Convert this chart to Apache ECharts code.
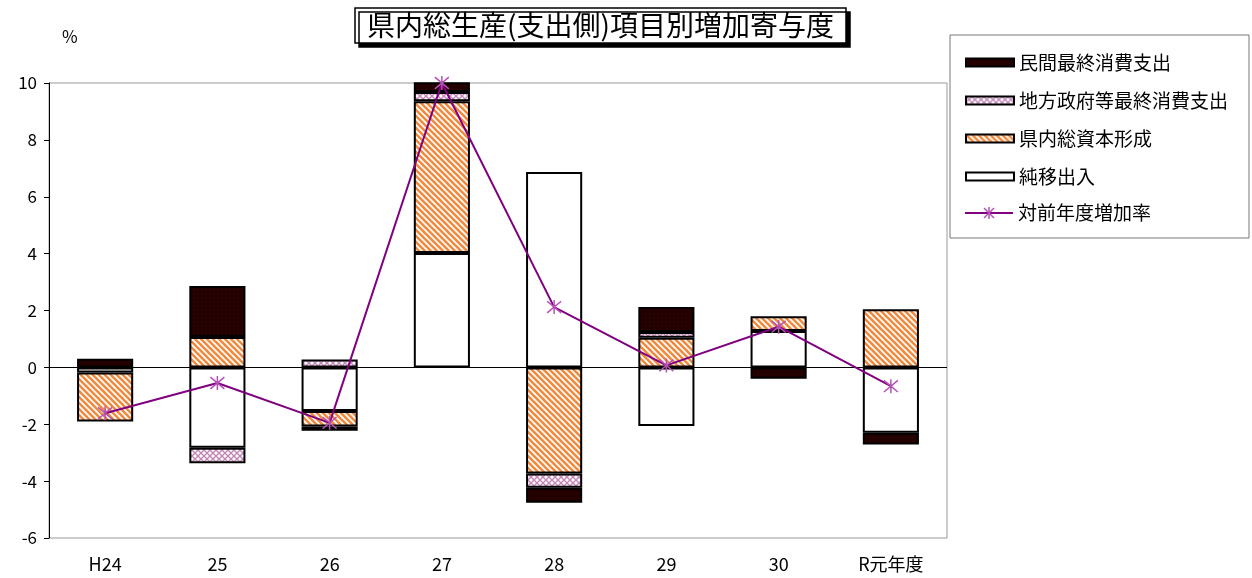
<!DOCTYPE html>
<html>
<head>
<meta charset="utf-8">
<script src="https://cdn.jsdelivr.net/npm/echarts@6/dist/echarts.min.js"></script>
<style>
  html, body { margin: 0; padding: 0; background: #fff; }
  #chart { width: 1252px; height: 578px; }
</style>
</head>
<body>
<div id="chart"></div>
<script>
// 年度
const categories = ['H24', '25', '26', '27', '28', '29', '30', 'R元年度'];
// 寄与度 (%)
const netExports = [-0.18, -2.83, -1.53, 4.02, 6.87, -2.06, 1.28, -2.30];   // 純移出入
const capital = [-1.72, 1.07, -0.55, 5.34, -3.73, 1.04, 0.52, 2.04];        // 県内総資本形成
const government = [null, -0.54, 0.28, 0.32, -0.50, 0.20, null, null];      // 地方政府等最終消費支出
const privateCons = [0.30, 1.79, -0.15, 0.35, -0.53, 0.88, -0.40, -0.41];   // 民間最終消費支出
const growth = [-1.61, -0.55, -1.95, 10.0, 2.12, 0.07, 1.43, -0.66];        // 対前年度増加率

const FONT = '"Noto Sans CJK JP", "DejaVu Sans", sans-serif';
const STAR = 'path://M0,0L10,10M10,0L0,10M5,-1L5,11';
const LINE_NAME = '対前年度増加率';

function makePattern(size, draw) {
  const c = document.createElement('canvas');
  c.width = size; c.height = size;
  draw(c.getContext('2d'), size);
  return { image: c, repeat: 'repeat' };
}

const stripe = makePattern(6, (ctx, s) => {
  ctx.fillStyle = '#ffffff';
  ctx.fillRect(0, 0, s, s);
  ctx.strokeStyle = '#f08a3e';
  ctx.lineWidth = 2.6;
  for (let x = -s; x <= s; x += s) {
    ctx.beginPath();
    ctx.moveTo(x - 1, -1);
    ctx.lineTo(x + s + 1, s + 1);
    ctx.stroke();
  }
});

const hatch = makePattern(6, (ctx, s) => {
  ctx.fillStyle = '#ffffff';
  ctx.fillRect(0, 0, s, s);
  ctx.strokeStyle = '#c486b8';
  ctx.lineWidth = 1.4;
  ctx.beginPath();
  ctx.moveTo(0, 0); ctx.lineTo(s, s);
  ctx.moveTo(s, 0); ctx.lineTo(0, s);
  ctx.stroke();
});

const dots = makePattern(4, (ctx, s) => {
  ctx.fillStyle = '#220000';
  ctx.fillRect(0, 0, s, s);
  ctx.fillStyle = '#400404';
  ctx.fillRect(1, 1, 1, 1);
});

function barSeries(name, data, color) {
  return {
    name: name,
    type: 'bar',
    stack: 'total',
    barWidth: '50%',
    data: data,
    itemStyle: { color: color, borderColor: '#000', borderWidth: 2 }
  };
}

// legend frame + the line entry (drawn by hand so it keeps line and star)
const lx = 965, ly = 213;
const legendGraphics = [
  { type: 'rect', shape: { x: 950, y: 35, width: 299, height: 203 },
    style: { fill: 'none', stroke: '#777', lineWidth: 1 }, z: 1 },
  { type: 'line', shape: { x1: lx, y1: ly, x2: lx + 48, y2: ly },
    style: { stroke: '#800080', lineWidth: 2 }, z: 5 },
  { type: 'line', shape: { x1: lx + 19, y1: ly - 5, x2: lx + 29, y2: ly + 5 },
    style: { stroke: '#b552b5', lineWidth: 1.5 }, z: 6 },
  { type: 'line', shape: { x1: lx + 29, y1: ly - 5, x2: lx + 19, y2: ly + 5 },
    style: { stroke: '#b552b5', lineWidth: 1.5 }, z: 6 },
  { type: 'line', shape: { x1: lx + 24, y1: ly - 6, x2: lx + 24, y2: ly + 6 },
    style: { stroke: '#b552b5', lineWidth: 1.5 }, z: 6 },
  { type: 'text', x: lx + 53, y: ly, z: 6,
    style: { text: LINE_NAME, fontFamily: FONT, fontSize: 19, fill: '#000', verticalAlign: 'middle' } }
];

const chart = echarts.init(document.getElementById('chart'));
chart.setOption({
  animation: false,
  backgroundColor: '#fff',
  textStyle: { fontFamily: FONT, color: '#000' },
  title: {
    text: '県内総生産(支出側)項目別増加寄与度',
    left: 355,
    top: 8,
    padding: [3, 12, 4, 12],
    backgroundColor: '#fff',
    borderColor: '#000',
    borderWidth: 1.5,
    shadowColor: '#000',
    shadowOffsetX: 4,
    shadowOffsetY: 4,
    shadowBlur: 0,
    textStyle: { fontFamily: FONT, fontSize: 28, fontWeight: 'normal', color: '#000' }
  },
  graphic: [{
    type: 'text',
    left: 62,
    top: 28,
    style: { text: '%', fontFamily: FONT, fontSize: 17, fill: '#000' }
  }].concat(legendGraphics),
  legend: {
    orient: 'vertical',
    left: lx,
    top: 53,
    padding: 0,
    itemGap: 19,
    itemWidth: 48,
    itemHeight: 8,
    icon: 'rect',
    textStyle: { fontFamily: FONT, fontSize: 19, color: '#000', padding: [0, 0, 0, 0] },
    data: ['民間最終消費支出', '地方政府等最終消費支出', '県内総資本形成', '純移出入']
  },
  grid: {
    left: 49, top: 83, right: 305, bottom: 40,
    show: true, borderColor: '#999', borderWidth: 1
  },
  xAxis: {
    type: 'category',
    data: categories,
    axisLine: { show: false, onZero: false },
    axisTick: { show: false },
    axisLabel: { fontFamily: FONT, fontSize: 18, color: '#000', margin: 17 }
  },
  yAxis: {
    type: 'value',
    min: -6, max: 10, interval: 2,
    axisLine: { show: true, lineStyle: { color: '#000', width: 1 } },
    axisTick: { show: true, length: 5, lineStyle: { color: '#000' } },
    splitLine: { show: false },
    axisLabel: { fontFamily: FONT, fontSize: 17, color: '#000', margin: 12 }
  },
  series: [
    barSeries('純移出入', netExports, '#ffffff'),
    barSeries('県内総資本形成', capital, stripe),
    barSeries('地方政府等最終消費支出', government, hatch),
    barSeries('民間最終消費支出', privateCons, dots),
    {
      name: LINE_NAME,
      type: 'line',
      data: growth,
      z: 5,
      symbol: STAR,
      symbolSize: 14,
      lineStyle: { color: '#800080', width: 2 },
      itemStyle: { color: 'rgba(0,0,0,0)', borderColor: '#b552b5', borderWidth: 1.5 },
      markLine: {
        silent: true,
        symbol: 'none',
        label: { show: false },
        lineStyle: { color: '#000', width: 1, type: 'solid' },
        data: [{ yAxis: 0 }]
      }
    }
  ]
});
</script>
</body>
</html>
